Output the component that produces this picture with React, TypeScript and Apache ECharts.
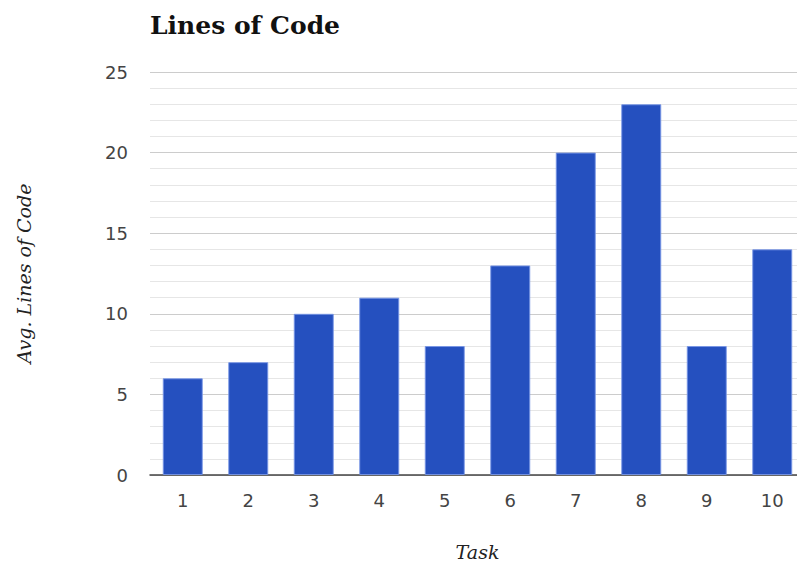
import React, { useEffect, useRef } from "react";
import * as echarts from "echarts";

const tasks = ["1", "2", "3", "4", "5", "6", "7", "8", "9", "10"];
const avgLines = [6, 7, 10, 11, 8, 13, 20, 23, 8, 14];

export default function App() {
  const ref = useRef<HTMLDivElement>(null);

  useEffect(() => {
    if (!ref.current) return;
    const chart = echarts.init(ref.current, undefined, { renderer: "svg" });
    chart.setOption({
      animation: false,
      backgroundColor: "#ffffff",
      title: {
        text: "Lines of Code",
        left: 150,
        top: 13,
        padding: 0,
        textStyle: {
          fontFamily: "DejaVu Serif",
          fontWeight: "bold",
          fontSize: 25,
          color: "#111111",
        },
      },
      grid: {
        left: 150,
        top: 72,
        width: 655,
        height: 403,
        containLabel: false,
        outerBoundsMode: "none",
      },
      xAxis: {
        type: "category",
        data: tasks,
        name: "Task",
        nameLocation: "middle",
        nameGap: 67,
        nameTextStyle: {
          fontFamily: "DejaVu Serif",
          fontStyle: "italic",
          fontSize: 19,
          color: "#222222",
        },
        axisLine: { lineStyle: { color: "#444444", width: 1.5 } },
        axisTick: { show: false },
        axisLabel: {
          margin: 16,
          fontFamily: "DejaVu Sans",
          fontSize: 18,
          color: "#444444",
        },
      },
      yAxis: {
        type: "value",
        min: 0,
        max: 25,
        interval: 5,
        name: "Avg. Lines of Code",
        nameLocation: "middle",
        nameGap: 117,
        nameTextStyle: {
          fontFamily: "DejaVu Serif",
          fontStyle: "italic",
          fontSize: 19,
          color: "#222222",
        },
        axisLine: { show: false },
        axisTick: { show: false },
        axisLabel: {
          margin: 22,
          fontFamily: "DejaVu Sans",
          fontSize: 18,
          color: "#444444",
        },
        splitLine: { lineStyle: { color: "#cccccc", width: 1.2 } },
        minorTick: { show: false, splitNumber: 5 },
        minorSplitLine: { show: true, lineStyle: { color: "#e6e6e6", width: 1.2 } },
      },
      series: [
        {
          type: "bar",
          data: avgLines,
          barWidth: 40,
          itemStyle: {
            color: "#2550bf",
            borderColor: "rgba(120,150,230,0.9)",
            borderWidth: 1,
          },
        },
      ],
    });
    return () => chart.dispose();
  }, []);

  return (
    <div
      ref={ref}
      style={{ position: "absolute", left: 0, top: 0, width: 797, height: 565 }}
    />
  );
}
